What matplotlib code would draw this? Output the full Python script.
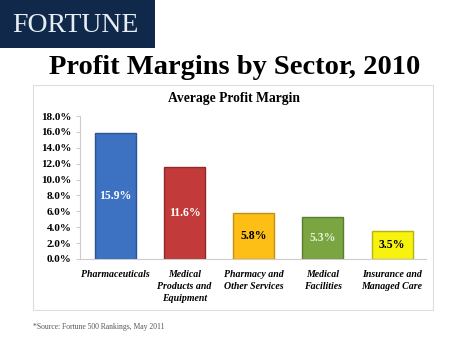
import matplotlib
matplotlib.use("Agg")
import matplotlib.pyplot as plt
from matplotlib.patches import Rectangle

sectors = ["Pharmaceuticals", "Medical\nProducts and\nEquipment", "Pharmacy and\nOther Services",
           "Medical\nFacilities", "Insurance and\nManaged Care"]
margins = [15.9, 11.6, 5.8, 5.3, 3.5]
bar_colors = ["#3d71c2", "#c33a3a", "#fdbf16", "#7aa540", "#f7f20e"]
edge_colors = ["#2c5592", "#8e2a2a", "#c48f12", "#5a7d2f", "#b5b210"]
label_colors = ["white", "white", "black", "#e6f0d8", "black"]
yticks = [0, 2, 4, 6, 8, 10, 12, 14, 16, 18]

plt.rcParams["font.family"] = ["Liberation Serif", "DejaVu Serif"]

fig = plt.figure(figsize=(4.68, 3.51), dpi=100)

# Fortune banner
fig.patches.append(Rectangle((0, 1 - 48 / 351), 155 / 468, 48 / 351, transform=fig.transFigure,
                             facecolor="#10294a", edgecolor="none", zorder=0))
fig.text(12 / 468, 1 - 25 / 351, "FORTUNE", color="#e6edf5", fontsize=20, va="center", ha="left")
fig.text(235 / 468, 1 - 68 / 351, "Profit Margins by Sector, 2010", fontsize=20.5,
         fontweight="bold", ha="center", va="center")

# chart frame
fig.patches.append(Rectangle((33 / 468, 1 - 310 / 351), 400 / 468, 225 / 351, transform=fig.transFigure,
                             facecolor="none", edgecolor="#dddddd", linewidth=0.8, zorder=0))
fig.text(234 / 468, 1 - 98 / 351, "Average Profit Margin", fontsize=9.8, fontweight="bold",
         ha="center", va="center")

ax = fig.add_axes([80 / 468, 1 - 259 / 351, 346 / 468, 143 / 351])
x = range(len(sectors))
ax.bar(x, margins, width=0.59, color=bar_colors, edgecolor=edge_colors, linewidth=1.0, zorder=2)
for i, (v, c) in enumerate(zip(margins, label_colors)):
    ax.text(i, v / 2, f"{v:.1f}%", ha="center", va="center", color=c,
            fontsize=8.5, fontweight="bold", zorder=3)

ax.set_xlim(-0.51, 4.49)
ax.set_ylim(0, 18)
ax.set_yticks(yticks)
ax.set_yticklabels([f"{t:.1f}%" for t in yticks], fontsize=8, fontweight="bold")
ax.set_xticks(list(x))
ax.set_xticklabels(sectors, fontsize=7.1, fontstyle="italic", fontweight="bold", linespacing=1.4)
ax.tick_params(axis="x", length=0, pad=8)
ax.tick_params(axis="y", length=3, color="#cccccc", pad=3)
for s in ["top", "right"]:
    ax.spines[s].set_visible(False)
ax.spines["left"].set_color("#cccccc")
ax.spines["bottom"].set_color("#cccccc")

fig.text(33 / 468, 1 - 327 / 351, "*Source: Fortune 500 Rankings, May 2011", fontsize=5.5,
         color="#555555", va="center")

fig.savefig("out.png", dpi=100)
